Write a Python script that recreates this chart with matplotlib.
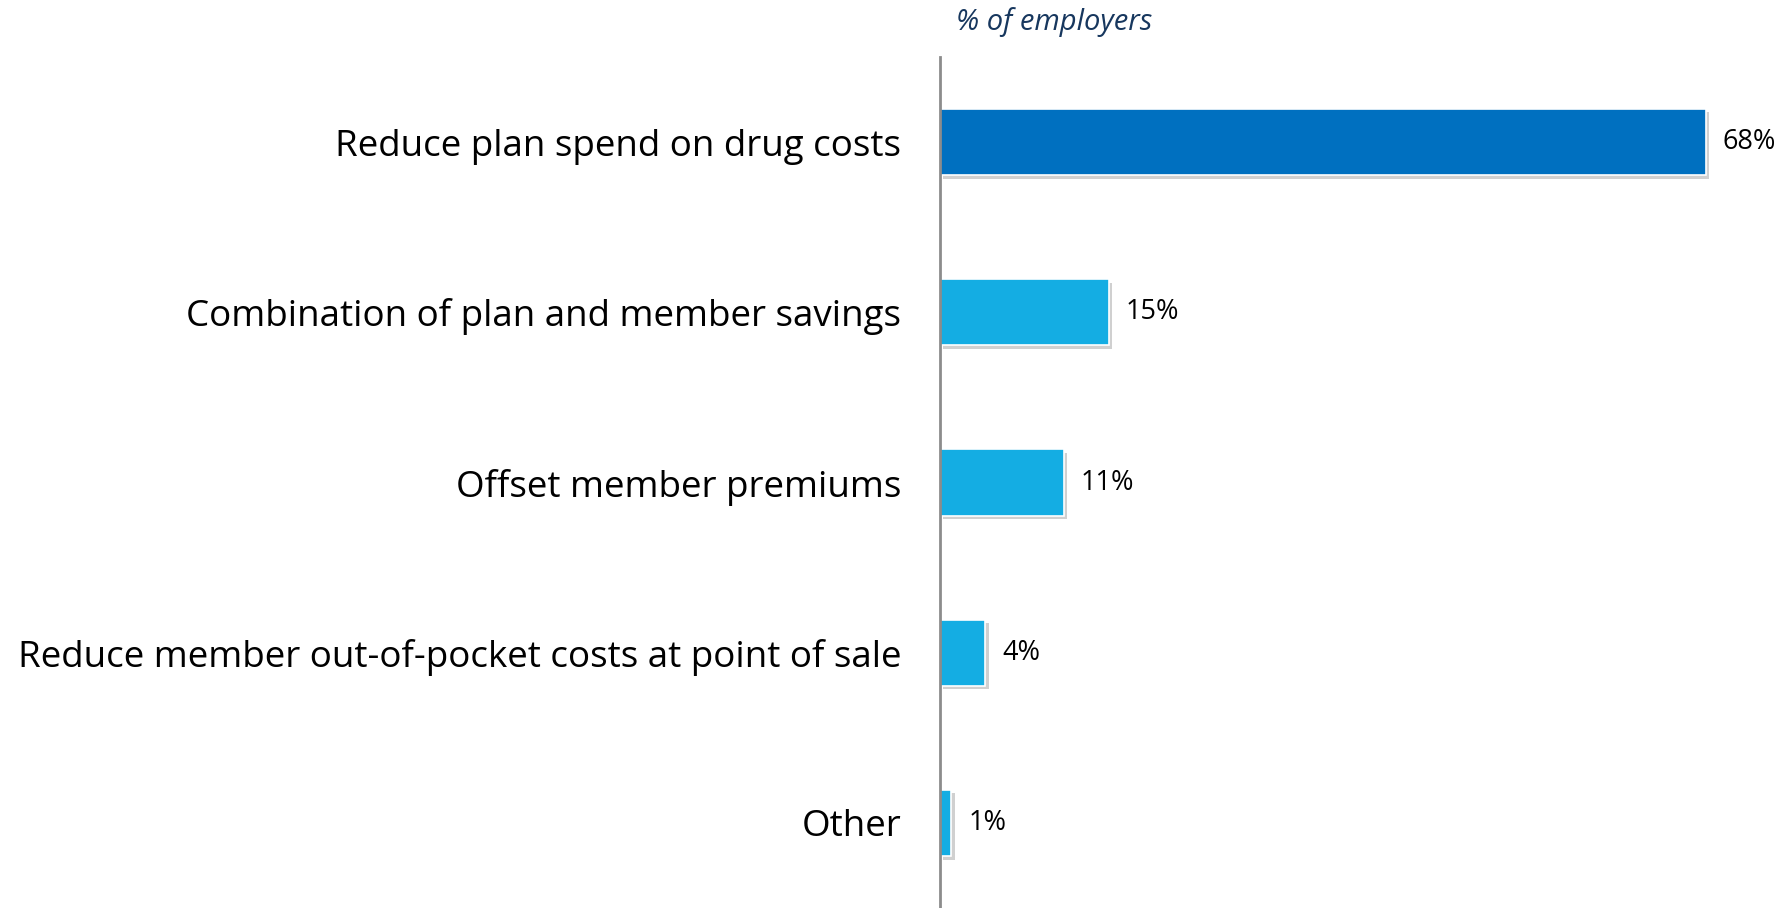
import matplotlib
matplotlib.use("Agg")
import matplotlib.pyplot as plt
import matplotlib.patheffects as pe
from matplotlib.transforms import offset_copy

categories = [
    "Reduce plan spend on drug costs",
    "Combination of plan and member savings",
    "Offset member premiums",
    "Reduce member out-of-pocket costs at point of sale",
    "Other",
]
values = [68, 15, 11, 4, 1]
bar_colors = ["#0070C0", "#14ADE3", "#14ADE3", "#14ADE3", "#14ADE3"]
value_labels = [f"{v}%" for v in values]
axis_title = "% of employers"

plt.rcParams["font.family"] = ["Open Sans", "DejaVu Sans"]

fig = plt.figure(figsize=(17.81, 9.08), dpi=100)
ax = fig.add_axes([940 / 1781, 0, 841 / 1781, 1 - 57 / 908])

y = list(range(len(categories)))
shadow = [pe.SimplePatchShadow(offset=(2.5, -2.5), shadow_rgbFace="#8a8a8a", alpha=0.4),
          pe.Normal()]
bars = ax.barh(y, values, height=0.39, color=bar_colors, edgecolor="white",
               linewidth=1.2, zorder=3)
for b in bars:
    b.set_path_effects(shadow)

ax.set_xlim(0, 74.7)
ax.set_ylim(len(categories) - 0.5, -0.5)

ax.set_yticks(y)
ax.set_yticklabels(categories, fontsize=26.5, color="#000000")
ax.tick_params(axis="y", length=0, pad=28)
ax.set_xticks([])

for s in ["top", "right", "bottom"]:
    ax.spines[s].set_visible(False)
ax.spines["left"].set_color("#8c8c8c")
ax.spines["left"].set_linewidth(2)
ax.spines["left"].set_zorder(4)

for yi, v, lab in zip(y, values, value_labels):
    tr = offset_copy(ax.transData, fig=fig, x=17, y=0, units="dots")
    ax.text(v, yi, lab, transform=tr, ha="left", va="center",
            fontsize=19.5, color="#000000")

fig.text(1054 / 1781, 1 - 22 / 908, axis_title, ha="center", va="center",
         fontsize=21, style="italic", color="#17375E")

fig.savefig("out.png", dpi=100, facecolor="white")
